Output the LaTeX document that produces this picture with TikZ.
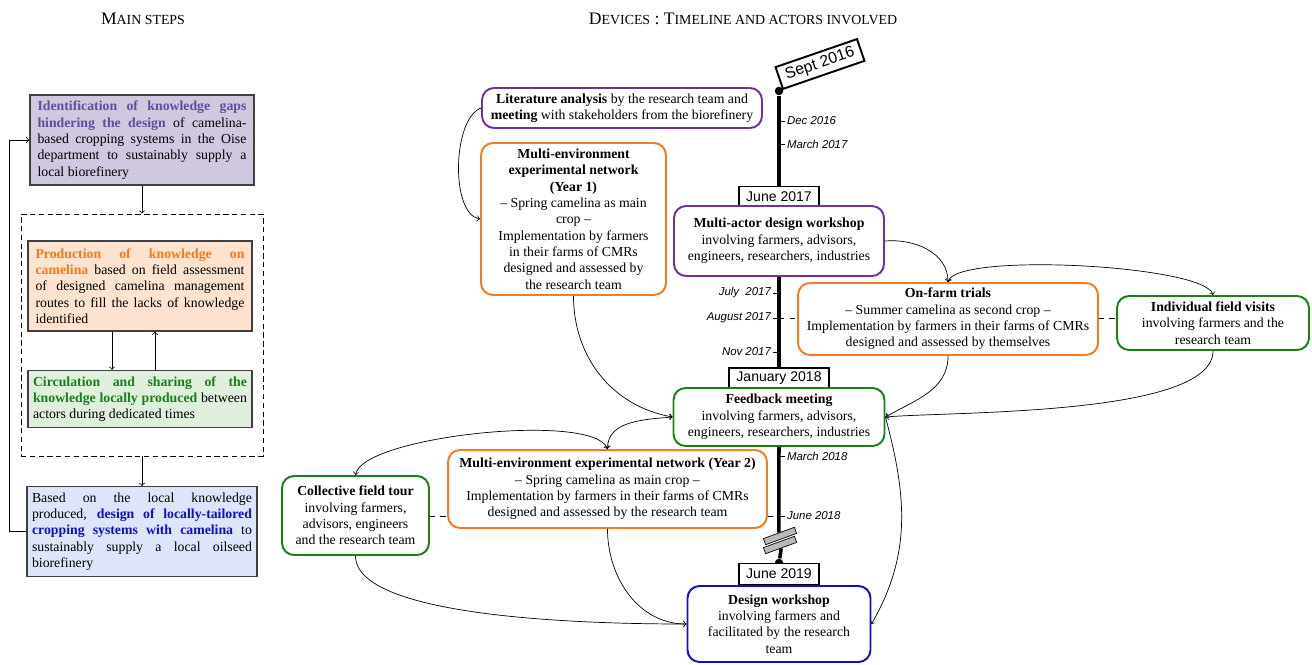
\documentclass[tikz,border=0pt]{standalone}
\usepackage{fontspec}
\setmainfont{Liberation Serif}
\setsansfont{Liberation Sans}
\definecolor{stepPurple}{RGB}{100,76,156}
\definecolor{devPurple}{RGB}{112,48,160}
\definecolor{devOrange}{RGB}{245,122,32}
\definecolor{devGreen}{RGB}{24,128,24}
\definecolor{devBlue}{RGB}{16,16,204}
\definecolor{fillPurple}{RGB}{207,200,223}
\definecolor{fillOrange}{RGB}{253,226,208}
\definecolor{fillGreen}{RGB}{223,238,221}
\definecolor{fillBlue}{RGB}{222,229,250}
\newcommand{\lowcaps}[1]{{\fontsize{7.9}{9}\selectfont #1}}
\newcommand{\nohyph}{\hyphenpenalty=10000\relax\tolerance=9999\relax\hbadness=10000\relax}
\tikzset{
  txt/.style={font=\fontsize{7.85}{9.3}\selectfont},
  title/.style={font=\fontsize{10}{12}\selectfont},
  stepbox/.style={txt, execute at begin node=\nohyph, draw=black!75, line width=0.8pt, align=justify, inner xsep=0.15cm, text width=4.18cm},
  devbox/.style={txt, draw, line width=1.1pt, rounded corners=0.24cm, fill=white, align=center, inner sep=2pt},
  datebox/.style={draw, line width=1.1pt, fill=white, font=\sffamily\fontsize{8}{9}\selectfont, inner xsep=4pt, inner ysep=2pt, minimum height=0.42cm},
  tickr/.style={anchor=west, font=\sffamily\itshape\fontsize{6.5}{8}\selectfont, inner sep=1pt},
  tickl/.style={tickr, anchor=east},
  dot/.style={circle, fill=black, inner sep=0pt, minimum size=0.17cm},
  brk/.style={draw, fill=gray!55, rotate=20, minimum width=0.66cm, minimum height=0.13cm, inner sep=0pt},
  link/.style={->, line width=0.4pt},
  tline/.style={line width=2pt},
}
\begin{document}
\begin{tikzpicture}[x=0.02cm,y=0.02cm]
\useasboundingbox (0,0) rectangle (1312,664);
\node[title] (mainttl) at (143,645) {M\lowcaps{AIN STEPS}};
\node[title] (devttl) at (743,645) {D\lowcaps{EVICES} : T\lowcaps{IMELINE AND ACTORS INVOLVED}};
\node[stepbox, fill=fillPurple, minimum height=1.8cm] (box1) at (142,524) {{\color{stepPurple}\bfseries Identification of knowledge gaps hindering the design} of camelina-based cropping systems in the Oise department to sustainably supply a local biorefinery};
\node[draw, densely dashed, minimum width=4.84cm, minimum height=4.84cm] (grp) at (142,329) {};
\node[stepbox, fill=fillOrange, minimum height=1.8cm] (box2) at (140,378) {{\color{devOrange}\bfseries Production of knowledge on camelina} based on field assessment of designed camelina management routes to fill the lacks of knowledge identified};
\node[stepbox, fill=fillGreen, minimum height=1.12cm, text width=4.28cm, inner xsep=0.1cm] (box3) at (140,265) {{\color{devGreen}\bfseries Circulation and sharing of the knowledge locally produced} between actors during dedicated times};
\node[stepbox, fill=fillBlue, minimum height=1.78cm, text width=4.4cm, inner xsep=0.1cm] (box4) at (142,132.5) {Based on the local knowledge\linebreak produced, {\color{devBlue}\bfseries design of locally-tailored\linebreak cropping systems with camelina} to\linebreak sustainably supply a local oilseed\linebreak biorefinery};
\draw[link] (box1.south) -- (grp.north);
\draw[link] ([xshift=-0.56cm]box2.south) -- ([xshift=-0.56cm]box3.north);
\draw[link] ([xshift=0.3cm]box3.north) -- ([xshift=0.3cm]box2.south);
\draw[link] (grp.south) -- (box4.north);
\draw[link] (box4.west) -- ++(-17,0) |- (box1.west);
\node[dot] (top) at (779,573) {};
\node[dot] (bot) at (779,101) {};
\node[datebox, rotate=19, font=\sffamily\fontsize{9}{10}\selectfont, minimum height=0.46cm] (sep16) at (820,600) {Sept 2016};
\node[devbox, draw=devPurple, minimum width=5.6cm, minimum height=0.8cm] (lit) at (622,556) {\textbf{Literature analysis} by the research team and\\\textbf{meeting} with stakeholders from the biorefinery};
\node[devbox, draw=devOrange, minimum width=3.7cm, minimum height=3.04cm] (year1) at (573.5,445) {\textbf{Multi-environment}\\\textbf{experimental network}\\\textbf{(Year 1)}\\-- Spring camelina as main\\crop --\\Implementation by farmers\\in their farms of CMRs\\designed and assessed by\\the research team};
\node[datebox] (jun17) at (779,467) {June 2017};
\node[devbox, draw=devPurple, minimum width=4.2cm, minimum height=1.4cm] (mactor) at (779,423) {\textbf{Multi-actor design workshop}\\involving farmers, advisors,\\engineers, researchers, industries};
\node[devbox, draw=devOrange, minimum width=6cm, minimum height=1.44cm] (onfarm) at (948,345) {\textbf{On-farm trials}\\-- Summer camelina as second crop --\\Implementation by farmers in their farms of CMRs\\designed and assessed by themselves};
\node[devbox, draw=devGreen, minimum width=3.84cm, minimum height=1.08cm] (visits) at (1213,341) {\textbf{Individual field visits}\\involving farmers and the\\research team};
\node[datebox] (jan18) at (779,285.5) {January 2018};
\node[devbox, draw=devGreen, minimum width=4.22cm, minimum height=1.16cm] (feedback) at (779,247) {\textbf{Feedback meeting}\\involving farmers, advisors,\\engineers, researchers, industries};
\node[devbox, draw=devOrange, minimum width=6.38cm, minimum height=1.56cm] (year2) at (607.5,175) {\textbf{Multi-environment experimental network (Year 2)}\\-- Spring camelina as main crop --\\Implementation by farmers in their farms of CMRs\\designed and assessed by the research team};
\node[devbox, draw=devGreen, minimum width=2.94cm, minimum height=1.58cm] (tour) at (355.5,148.5) {\textbf{Collective field tour}\\involving farmers,\\advisors, engineers\\and the research team};
\node[datebox] (jun19) at (779,90) {June 2019};
\node[devbox, draw=devBlue, minimum width=3.66cm, minimum height=1.52cm] (design) at (779,40) {\textbf{Design workshop}\\involving farmers and\\facilitated by the research\\team};
\node[brk] (brka) at (780,128) {};
\node[brk] (brkb) at (780,119) {};
\draw[tline] (top) -- (jun17.north);
\draw[tline] (mactor.south) -- (jan18.north);
\draw[tline] (feedback.south) -- (brka.north);
\draw[tline] (brkb.south) -- (bot);
\foreach \y/\d/\n in {543/Dec 2016/dec16, 520/March 2017/mar17, 208/March 2018/mar18, 148/June 2018/jun18}
  \draw (779,\y) -- ++(6,0) node[tickr] (\n) {\d};
\foreach \y/\d/\n in {371/July~ 2017/jul17, 346/August 2017/aug17, 312/Nov 2017/nov17}
  \draw (779,\y) -- ++(-6,0) node[tickl] (\n) {\d};
\draw[dashed] (aug17 -| top) -- (aug17 -| onfarm.west);
\draw[dashed] (onfarm.east |- aug17) -- (visits.west |- aug17);
\draw[dashed] (year2.east |- jun18) -- (jun18 -| top);
\draw[dashed] (tour.east |- jun18) -- (year2.west |- jun18);
\draw[link] (lit.west) to[out=200,in=170,looseness=0.7] (year1.west);
\draw[link] (mactor.east) to[out=5,in=90] (onfarm.north);
\draw[link, <->] (onfarm.north) to[out=75,in=105,looseness=0.3] (visits.north);
\draw[link] (year1.south) to[out=-90,in=170] (feedback.west);
\draw[link] (onfarm.south) to[out=-90,in=30] (feedback.east);
\draw[link] (visits.south) to[out=-90,in=5,looseness=0.5] (feedback.east);
\draw[link, <->] (year2.north) to[out=90,in=185] (feedback.west);
\draw[link, <->] (tour.north) to[out=80,in=110,looseness=0.4] (year2.north);
\draw[link] (tour.south) to[out=-90,in=180,looseness=0.5] (design.west);
\draw[link] (year2.south) to[out=-90,in=180] (design.west);
\draw[link] (feedback.east) to[out=-75,in=60] (design.east);
\end{tikzpicture}
\end{document}
